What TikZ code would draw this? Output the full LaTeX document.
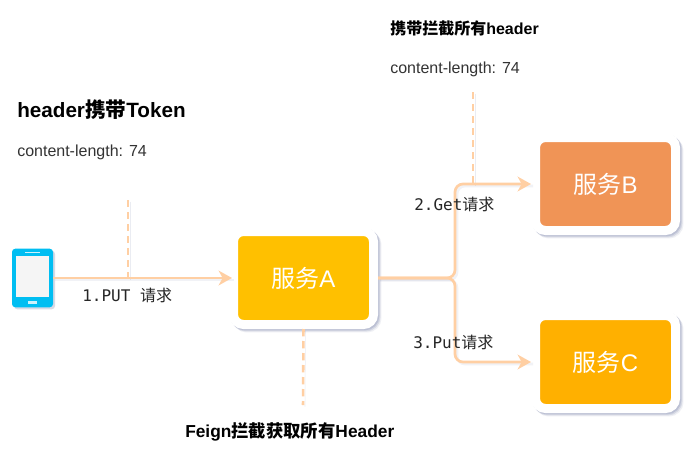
\documentclass[tikz,border=0pt]{standalone}
\usepackage{fontspec}
\setmainfont{Liberation Sans}
\setmonofont{DejaVu Sans Mono}
\newfontfamily\cjk{Noto Sans CJK SC}
\newcommand{\zh}[1]{{\cjk #1}}
\usetikzlibrary{arrows.meta,positioning}
\definecolor{svcamber}{HTML}{FFC000}
\definecolor{svcorange}{HTML}{F09456}
\definecolor{svcgold}{HTML}{FFB000}
\definecolor{flowpeach}{HTML}{FFCFA3}
\definecolor{phonecyan}{HTML}{00BEF2}
\definecolor{softshade}{HTML}{8E96B8}
\tikzset{
  svc/.style={draw=white,line width=6.75pt,rounded corners=7.5pt,fill=#1,text=white,
              minimum width=105pt,minimum height=69.75pt,inner sep=0pt,
              font=\fontsize{18}{20}\selectfont,
              preaction={draw=softshade,fill=softshade,opacity=.14,
                         transform canvas={shift={(2.6pt,-2.6pt)}}},
              preaction={draw=softshade,fill=softshade,opacity=.25,
                         transform canvas={shift={(1.8pt,-1.8pt)}}},
              preaction={draw=softshade,fill=softshade,opacity=.35,
                         transform canvas={shift={(1pt,-1pt)}}}},
  flow/.style={draw=flowpeach,line width=2pt,rounded corners=6pt,
               -{Stealth[length=10pt,width=11pt,inset=3pt]},
               preaction={draw=softshade,opacity=.12,line width=2pt,-{},
                          transform canvas={shift={(1.5pt,-1.5pt)}}}},
  tap/.style={draw=flowpeach,line width=1.9pt,dash pattern=on 5.5pt off 3.5pt,
              preaction={draw=softshade,opacity=.18,
                         transform canvas={shift={(1.5pt,-1.2pt)}}}},
  note/.style={anchor=west,inner sep=0pt,text=black!80,font=\fontsize{12}{14}\selectfont},
  title/.style={anchor=west,inner sep=0pt,text=black,font=\fontsize{12}{14}\selectfont\bfseries},
  flowlbl/.style={anchor=west,inner sep=0pt,text=black!85,font=\fontsize{12}{14}\selectfont\ttfamily},
}
\begin{document}
\begin{tikzpicture}[x=.75pt,y=-.75pt]
  \useasboundingbox[fill=white] (0,0) rectangle (693,475);

  % services
  \node[svc=svcamber]  (svcA) at (303.5,278) {\zh{服务}A};
  \node[svc=svcorange] (svcB) at (605.5,184) {\zh{服务}B};
  \node[svc=svcgold]   (svcC) at (605.5,362) {\zh{服务}C};

  % the phone
  \node[fill=phonecyan,rounded corners=2.5pt,minimum width=30.75pt,minimum height=44pt,
        inner sep=0pt,
        preaction={fill=softshade,opacity=.35,transform canvas={shift={(1.5pt,-1.5pt)}}}]
        (phone) at (32.5,278) {};
  \node[fill=white!96!black,minimum width=24.75pt,minimum height=30.75pt,inner sep=0pt]
        (screen) at (32.5,276.5) {};
  \node[fill=white!80!phonecyan,minimum width=11pt,minimum height=1.2pt,inner sep=0pt]
        (speaker) at (32.5,252.5) {};
  \node[fill=white!80!phonecyan,minimum width=6.5pt,minimum height=2pt,inner sep=0pt]
        (homekey) at (32.5,302.5) {};

  \coordinate (fork)     at (455,278);
  \coordinate (tapPut)   at (128,200);
  \coordinate (putFoot)  at (128,278);
  \coordinate (tapGet)   at (473,92);
  \coordinate (getFoot)  at (473,184);
  \coordinate (tapFeign) at (303,405);

  % dashed taps
  \draw[tap] (tapPut) -- (putFoot);
  \draw[tap] (tapGet) -- (getFoot);
  \draw[tap] (svcA.south) -- (tapFeign);

  % requests
  \draw[flow,shorten >=-2.25pt] (phone.east) -- (svcA.west);
  \draw[flow] (svcA.east) -- (fork) -- (fork |- svcB.west) -- (svcB.west);
  \draw[flow] (svcA.east) -- (fork) -- (fork |- svcC.west) -- (svcC.west);

  \node[flowlbl] (lblPut) at (82,295)  {1.PUT \zh{请求}};
  \node[flowlbl] (lblGet) at (414,204) {2.Get\zh{请求}};
  \node[flowlbl] (lblPutC) at (413,342) {3.Put\zh{请求}};

  % header notes
  \node[title,font=\fontsize{15.5}{17}\selectfont\bfseries] (tokenTitle) at (17,110) {header\zh{携带}Token};
  \node[note] (tokenLen) at (17,152) {content-length: 74};
  \node[title] (allTitle) at (390,28) {\zh{携带拦截所有}header};
  \node[note] (allLen) at (390,69) {content-length: 74};
  \node[title,font=\fontsize{13}{15}\selectfont\bfseries] (feignTitle) at (185,432) {Feign\zh{拦截获取所有}Header};
\end{tikzpicture}
\end{document}
